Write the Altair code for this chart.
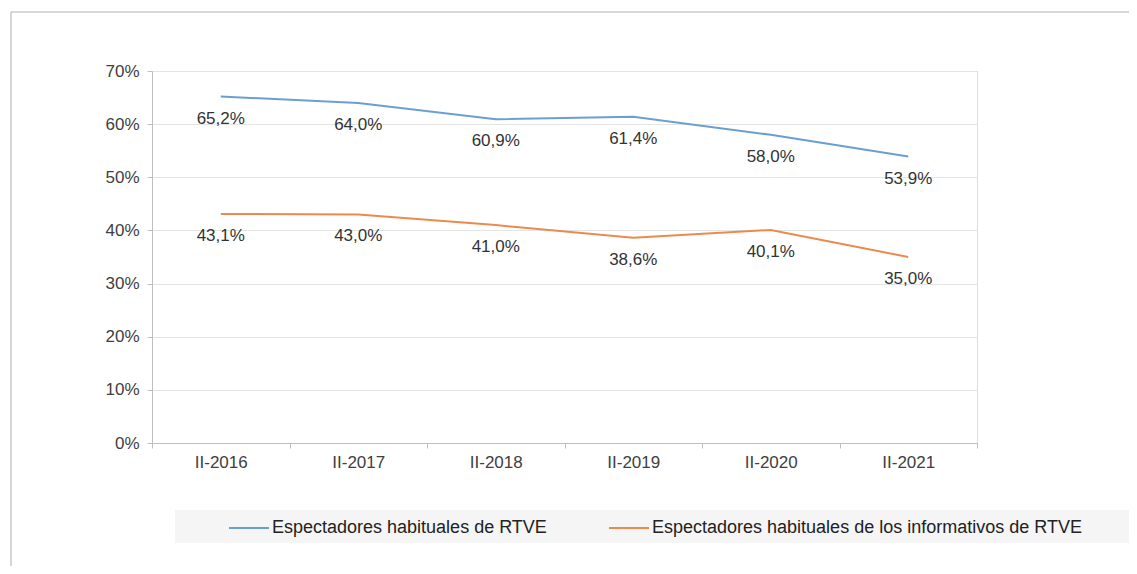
import altair as alt
import pandas as pd

periods = ["II-2016", "II-2017", "II-2018", "II-2019", "II-2020", "II-2021"]
series_names = ["Espectadores habituales de RTVE",
                "Espectadores habituales de los informativos de RTVE"]
rtve = [65.2, 64.0, 60.9, 61.4, 58.0, 53.9]
informativos = [43.1, 43.0, 41.0, 38.6, 40.1, 35.0]
colors = ["#6a9fd2", "#ec8a4e"]
y_ticks = [0, 10, 20, 30, 40, 50, 60, 70]

rows = []
for name, vals in zip(series_names, [rtve, informativos]):
    for p, v in zip(periods, vals):
        rows.append({"periodo": p, "serie": name, "valor": v,
                     "etiqueta": f"{v:.1f}".replace(".", ",") + "%"})
df = pd.DataFrame(rows)

FONT = "Liberation Sans"

x_enc = alt.X("periodo:N", sort=periods,
              scale=alt.Scale(type="band", paddingInner=0, paddingOuter=0),
              axis=alt.Axis(title=None, labelAngle=0, tickBand="extent",
                            labelFontSize=17, labelColor="#404040", labelFont=FONT,
                            labelPadding=6, tickSize=5, tickColor="#bfbfbf",
                            domainColor="#bfbfbf", grid=False))
y_enc = alt.Y("valor:Q", scale=alt.Scale(domain=[0, 70], nice=False),
              axis=alt.Axis(title=None, values=y_ticks, labelExpr="datum.value + '%'",
                            labelFontSize=17, labelColor="#404040", labelFont=FONT,
                            labelPadding=8, tickSize=5, tickColor="#bfbfbf",
                            domainColor="#bfbfbf", gridColor="#e4e4e4"))

one = pd.DataFrame({"k": [0]})

frame_left = alt.Chart(one).mark_rule(color="#c8c8c8", strokeWidth=1.5).encode(
    x=alt.value(-141), y=alt.value(-59), y2=alt.value(600))
frame_top = alt.Chart(one).mark_rule(color="#c8c8c8", strokeWidth=1.5).encode(
    x=alt.value(-141), x2=alt.value(1100), y=alt.value(-59))
legend_box = alt.Chart(one).mark_rect(fill="#f5f5f5").encode(
    x=alt.value(23), x2=alt.value(1100), y=alt.value(439), y2=alt.value(472))

lines = alt.Chart(df).mark_line(strokeWidth=2).encode(
    x=x_enc, y=y_enc,
    color=alt.Color("serie:N", sort=series_names,
                    scale=alt.Scale(domain=series_names, range=colors),
                    legend=alt.Legend(title=None, orient="none", legendX=76, legendY=436,
                                      direction="horizontal", symbolType="stroke",
                                      symbolSize=1600, symbolStrokeWidth=2,
                                      labelFontSize=18, labelFont=FONT, labelColor="#222222",
                                      labelOffset=2, labelLimit=700, columnPadding=58,
                                      padding=0)))

labels = alt.Chart(df).mark_text(fontSize=17, font=FONT, color="#333333",
                                 baseline="middle", dy=22).encode(
    x=alt.X("periodo:N", sort=periods), y="valor:Q", text="etiqueta:N")

chart = alt.layer(frame_left, frame_top, legend_box, lines, labels).properties(
    width=825, height=372,
    autosize=alt.AutoSizeParams(type="none"),
    padding={"left": 144, "top": 63, "right": 152, "bottom": 123},
).configure_view(fill="#f7f7f7", stroke=None).configure(background="white")

chart.save("out.html", embed_options={"renderer": "svg", "actions": False})
